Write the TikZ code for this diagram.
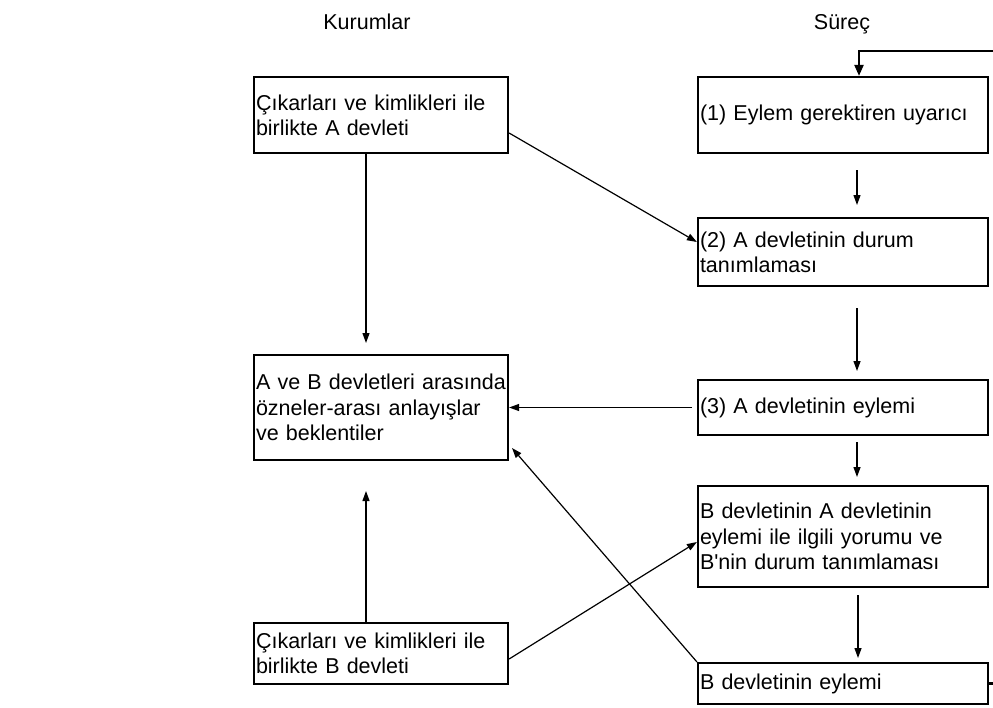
\documentclass[tikz,border=0pt]{standalone}
\usepackage{fontspec}
\setmainfont{Liberation Sans}[Ligatures=TeXOff]
\usetikzlibrary{arrows.meta}
\begin{document}
\begin{tikzpicture}[x=1pt,y=-1pt,
  txt/.style={font=\fontsize{21.5}{25.3}\selectfont},
  box/.style={draw, line width=2.2pt, txt, align=left, inner xsep=2pt, inner ysep=0pt},
  leftbox/.style={box, minimum width=254pt, text width=250pt},
  rightbox/.style={box, minimum width=290pt, text width=286pt},
  arr/.style={line width=1.2pt, -{Triangle[length=10pt,width=7pt]}},
  thick line/.style={line width=2.2pt}]
\useasboundingbox (0,0) rectangle (993,707);
\fill[white] (0,0) rectangle (993,707);

% headers
\node[txt, anchor=base] (h1) at (367,29.5) {Kurumlar};
\node[txt, anchor=base] (h2) at (842,29.5) {Süreç};

% left column
\node[leftbox, minimum height=76pt] (A) at (381,115) {Çıkarları ve kimlikleri ile\\birlikte A devleti};
\node[leftbox, minimum height=105pt] (AB) at (381,407.5) {A ve B devletleri arasında\\özneler-arası anlayışlar\\ve beklentiler};
\node[leftbox, minimum height=61pt] (B) at (381,653.5) {Çıkarları ve kimlikleri ile\\birlikte B devleti};

% right column
\node[rightbox, minimum height=76pt] (P1) at (843,115) {(1) Eylem gerektiren uyarıcı};
\node[rightbox, minimum height=68pt] (P2) at (843,252) {(2) A devletinin durum\\tanımlaması};
\node[rightbox, minimum height=55pt] (P3) at (843,407.5) {(3) A devletinin eylemi};
\node[rightbox, minimum height=101pt] (BI) at (843,536.5) {B devletinin A devletinin\\eylemi ile ilgili yorumu ve\\B'nin durum tanımlaması};
\node[rightbox, minimum height=41pt] (BA) at (843,683.5) {B devletinin eylemi};

% free ends
\coordinate (fbR) at (993,51);
\coordinate (fbC) at (859,51);
\coordinate (e1) at (857,170);
\coordinate (e2) at (857,205);
\coordinate (e3) at (857,308);
\coordinate (e4) at (857,371);
\coordinate (e5) at (857,442);
\coordinate (e6) at (857,477);
\coordinate (e7) at (858,595);
\coordinate (e8) at (858,658);
\coordinate (t1) at (366,343);
\coordinate (t2) at (366,491);
\coordinate (s4) at (692,407.5);
\coordinate (t6) at (512,448);

% feedback loop pieces
\draw[thick line, -{Triangle[length=11pt,width=9pt]}] (fbR) -- (fbC) -- (fbC |- P1.north);
\draw[thick line] (BA.east) -- (BA.east -| fbR);

% process arrows
\draw[arr] (e1) -- (e2);
\draw[arr] (e3) -- (e4);
\draw[arr] (e5) -- (e6);
\draw[arr] (e7) -- (e8);

% institution arrows
\draw[arr] (A.south -| t1) -- (t1);
\draw[arr] (B.north -| t2) -- (t2);
\draw[arr] (A.east |- 0,133) -- (P2.west |- 0,242);
\draw[arr] (s4) -- (AB.east);
\draw[arr] (B.east |- 0,659) -- (BI.west |- 0,542);
\draw[arr] (BA.north west) -- (t6);
\end{tikzpicture}
\end{document}
